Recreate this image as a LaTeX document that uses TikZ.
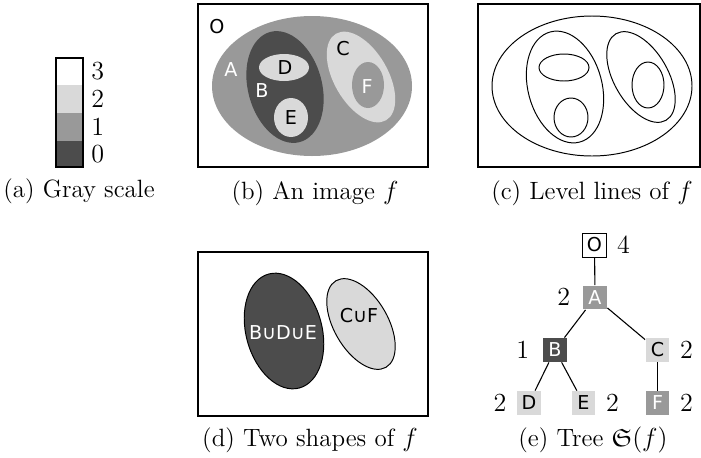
\documentclass[tikz,border=0pt]{standalone}
\usepackage{amsmath, amssymb}
\usepackage{fontspec}
\newfontfamily\lblfont{DejaVu Sans}
\usepackage{tikz}
\usetikzlibrary{positioning}

\definecolor{lvlzero}{gray}{0.30}
\definecolor{lvlone}{gray}{0.60}
\definecolor{lvltwo}{gray}{0.85}
\definecolor{lvlthree}{gray}{1.00}

\begin{document}
\begin{tikzpicture}[
    x=0.46pt, y=-0.46pt,
    frame/.style  = {draw=black, line width=0.5pt},
    lvl/.style    = {draw=black, line width=0.45pt},
    lbl/.style    = {font=\lblfont\fontsize{8.8}{10}\selectfont, inner sep=0pt},
    subcap/.style = {font=\fontsize{11.5}{13}\selectfont, anchor=base, inner sep=0pt},
    num/.style    = {font=\fontsize{11.5}{13}\selectfont, inner sep=0pt},
    tbox/.style   = {lbl, minimum size=11pt},
    link/.style   = {line width=0.5pt}
  ]
  \useasboundingbox (0,0) rectangle (701,457);

  % ----------------------------------------------------------------
  % (a) gray scale bar, levels 3 (top) .. 0 (bottom)
  % ----------------------------------------------------------------
  \foreach \idx/\ytop/\ybot/\col in {
      3/58/85/lvlthree, 2/85/113/lvltwo,
      1/113/141/lvlone, 0/141/167/lvlzero}{
    \fill[\col] (56,\ytop) rectangle (83,\ybot);
    \node[num, anchor=west] (g\idx) at (91, {(\ytop+\ybot)/2}) {$\idx$};
  }
  \draw[frame] (56,58) rectangle (83,167);
  \node[subcap] (capa) at (79,197) {(a) Gray scale};

  % ----------------------------------------------------------------
  % (b) image f (filled)  and  (c) its level lines (shifted by 280)
  % ----------------------------------------------------------------
  \draw[frame] (198,4) rectangle (428,167);
  \draw[frame] (478,4) rectangle (700,167);
  \foreach \cx/\cy/\rx/\ry/\rot/\col in {
      312/86/100/70/0/lvlone,   % A
      285/87/37/57/15/lvlzero,  % B
      284/67.5/25/13.5/0/lvltwo,% D
      291/117.5/17/19.5/0/lvltwo,% E
      361/77/27/50/30/lvltwo,   % C
      368/85/16/23/0/lvlone}{   % F
    \fill[\col, rotate around={\rot:(\cx,\cy)}]
         (\cx,\cy) ellipse [x radius=\rx, y radius=\ry];
    \draw[lvl, rotate around={\rot:(\cx+280,\cy)}]
         (\cx+280,\cy) ellipse [x radius=\rx, y radius=\ry];
  }
  % region names
  \foreach \name/\xx/\yy/\col in {
      O/217/27/black, A/231/70/white, B/262/91/white, C/343/49/black,
      D/285/68/black, E/291/118/black, F/367/87/white}{
    \node[lbl, text=\col] (r\name) at (\xx,\yy) {\name};
  }
  \node[subcap] (capb) at (315,199) {(b) An image $f$};
  \node[subcap] (capc) at (592,199) {(c) Level lines of $f$};

  % ----------------------------------------------------------------
  % (d) two shapes
  % ----------------------------------------------------------------
  \draw[frame] (198,252) rectangle (428,416);
  \filldraw[lvlzero, lvl, rotate around={15:(284,331)}]
       (284,331) ellipse [x radius=38, y radius=59];
  \filldraw[lvltwo, lvl, rotate around={30:(361,324)}]
       (361,324) ellipse [x radius=27, y radius=50];
  \node[lbl, text=white] (sBDE) at (283,333) {B∪D∪E};
  \node[lbl] (sCF) at (359,316) {C∪F};
  \node[subcap] (capd) at (310,446) {(d) Two shapes of $f$};

  % ----------------------------------------------------------------
  % (e) tree of shapes, with the area next to each box
  % ----------------------------------------------------------------
  \node[tbox, draw=black, fill=white] (O) at (594.5,245) {O};
  \node[tbox, fill=lvlone, text=white] (A) at (595,297.5) {A};
  \node[tbox, fill=lvlzero, text=white] (B) at (555,350) {B};
  \node[tbox, fill=lvltwo] (C) at (657.5,350) {C};
  \node[tbox, fill=lvltwo] (D) at (529,403) {D};
  \node[tbox, fill=lvltwo] (E) at (583.5,403) {E};
  \node[tbox, fill=lvlone, text=white] (F) at (657.5,403) {F};
  \node[num, right=4.5pt of O] (nO) {$4$};
  \node[num, left=5.5pt of A]  (nA) {$2$};
  \node[num, left=6pt of B]    (nB) {$1$};
  \node[num, right=4.5pt of C] (nC) {$2$};
  \node[num, left=4.5pt of D]  (nD) {$2$};
  \node[num, right=4.5pt of E] (nE) {$2$};
  \node[num, right=4.5pt of F] (nF) {$2$};
  \foreach \pp/\cc in {O/A, A/B, A/C, B/D, B/E, C/F}{
    \draw[link] (\pp) -- (\cc);
  }
  \node[subcap] (cape) at (593,446) {(e) Tree $\mathfrak{S}(f)$};

\end{tikzpicture}
\end{document}
